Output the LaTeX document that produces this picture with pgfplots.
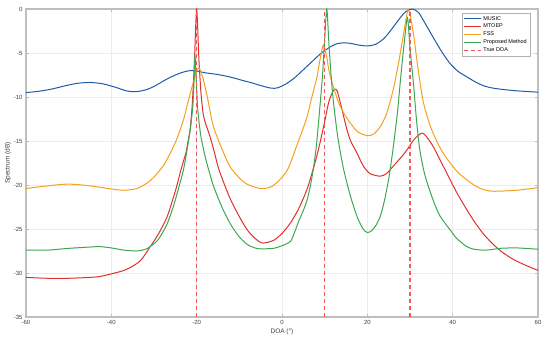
\documentclass[border=0pt]{standalone}
\usepackage{fontspec}
\setmainfont{Liberation Sans}
\usepackage{pgfplots}
\pgfplotsset{compat=1.18}

\definecolor{cMusic}{HTML}{1F5BAA}
\definecolor{cMtoep}{HTML}{E0302E}
\definecolor{cFss}{HTML}{F5A01E}
\definecolor{cProp}{HTML}{3CA851}
\definecolor{cTrue}{HTML}{F25A5A}
\definecolor{frame}{HTML}{BEBEBE}
\definecolor{ticktxt}{HTML}{404040}

\begin{document}
\begin{tikzpicture}
\begin{axis}[
    scale only axis,
    width=512pt, height=308pt,
    xmin=-60, xmax=60, ymin=-35, ymax=0,
    xtick={-60,-40,...,60},
    ytick={-35,-30,...,0},
    tick align=inside,
    major tick length=3pt,
    axis line style={frame, line width=1.2pt},
    every tick/.style={frame, line width=0.6pt},
    grid=major,
    major grid style={gray!15, line width=0.4pt},
    tick label style={font=\fontsize{6}{7}\selectfont, text=ticktxt},
    /pgf/number format/assume math mode=true,
    xlabel={DOA (°)},
    ylabel={Spectrum (dB)},
    label style={font=\fontsize{6.5}{7.5}\selectfont, text=ticktxt},
    xlabel style={yshift=3pt},
    ylabel style={yshift=-4pt},
    unbounded coords=jump,
    legend cell align=left,
    legend style={at={(rel axis cs:1,1)}, anchor=north east,
        xshift=-8pt, yshift=-4pt, draw=gray!60, fill=white,
        font=\fontsize{5.5}{6.5}\selectfont, inner sep=1pt,
        row sep=-1.5pt},
    legend image code/.code={\draw[#1] (0pt,0pt) -- (17pt,0pt);},
]

\addlegendimage{cMusic, line width=1pt}
\addlegendentry{MUSIC}
\addlegendimage{cMtoep, line width=1pt}
\addlegendentry{MTOEP}
\addlegendimage{cFss, line width=1pt}
\addlegendentry{FSS}
\addlegendimage{cProp, line width=1pt}
\addlegendentry{Proposed Method}
\addlegendimage{cTrue, line width=1.5pt, dash pattern=on 4pt off 3pt}
\addlegendentry{True DOA}

% MUSIC
\addplot[cMusic, line width=1pt, smooth, tension=0.45, forget plot] coordinates {
(-60,-9.5) (-57,-9.35) (-54,-9.1) (-51,-8.75) (-48,-8.45) (-45,-8.35)
(-42,-8.5) (-39,-8.9) (-36.5,-9.3) (-34.4,-9.4) (-32,-9.2) (-30,-8.8)
(-27.5,-8.1) (-25,-7.5) (-23,-7.15) (-21.5,-7.0) (-20,-7.05) (-18,-7.25)
(-15,-7.45) (-12,-7.75) (-9,-8.15) (-7,-8.4) (-5,-8.7) (-2.5,-9.0)
(-1,-8.95) (1,-8.5) (3,-7.8) (5,-6.9) (7,-6.0) (9,-5.1) (11,-4.4)
(12.5,-4.0) (14.3,-3.85) (16,-3.9) (18,-4.1) (20,-4.2) (22,-4.0)
(24,-3.3) (26,-2.1) (27.7,-1.0) (29,-0.3) (30.5,0) (32,-0.4) (33.5,-1.6)
(35.4,-3.2) (37.5,-4.9) (39.4,-6.2) (41.3,-7.1) (43.3,-7.7) (45,-8.2)
(47.1,-8.7) (49,-8.95) (51,-9.1) (55,-9.3) (60,-9.45)
};

% MTOEP
\addplot[cMtoep, line width=1pt, smooth, tension=0.45, forget plot] coordinates {
(-60,-30.5) (-55,-30.6) (-50,-30.6) (-45,-30.5) (-42.7,-30.4) (-40,-30.1)
(-37,-29.7) (-34.9,-29.2) (-33,-28.5) (-31,-27.1) (-29,-25.6) (-27,-23.7)
(-25.5,-21.5) (-24.6,-20.0) (-23.7,-18.3) (-22.5,-16.3) (-22,-15.0)
(-21.5,-13.5) (-21,-10.6) (-20.5,-5.6) (-20.25,-2.2) (-20,0)
(-19.75,-2.2) (-19.5,-5.5) (-19,-9.5) (-18.5,-11.8) (-18,-12.9)
(-17,-14.3) (-16,-16.0) (-15,-17.9) (-14,-19.3) (-12.2,-21.5) (-10,-23.6)
(-8,-25.2) (-6,-26.2) (-4.5,-26.6) (-2,-26.3) (0,-25.5) (2,-24.3)
(4,-22.6) (6,-20.3) (8,-17.0) (9,-15.0) (10,-12.8) (11,-10.5) (12,-9.3)
(12.5,-9.1) (13,-9.4) (14,-11.3) (15,-13.3) (16,-14.9) (17.6,-16.4)
(19,-17.8) (20.6,-18.7) (23,-19.0) (24.5,-18.7) (26,-17.9) (28,-16.8)
(29.3,-16.0) (31,-14.8) (32.8,-14.1) (34,-14.6) (35.4,-15.6) (37,-17.1)
(39.4,-19.4) (41,-20.9) (43.3,-22.8) (45,-24.1) (47.1,-25.5) (49,-26.5)
(51,-27.4) (54,-28.4) (57,-29.1) (60,-29.7)
};

% FSS
\addplot[cFss, line width=1pt, smooth, tension=0.45, forget plot] coordinates {
(-60,-20.4) (-55,-20.1) (-50,-19.9) (-45,-20.1) (-40,-20.45) (-37,-20.6)
(-34,-20.4) (-31.7,-19.8) (-30,-19.1) (-27.8,-17.8) (-26,-16.2)
(-24.6,-14.7) (-23.1,-12.6) (-22.3,-11.1) (-21,-8.7) (-20,-7.1)
(-19.4,-6.7) (-18.5,-7.9) (-17.5,-10.0) (-16.1,-13.3) (-14,-16.0)
(-12.2,-17.9) (-10,-19.2) (-8.2,-19.9) (-6,-20.3) (-4.5,-20.4)
(-2.5,-20.2) (-0.5,-19.4) (1,-18.5) (1.9,-17.6) (3.4,-15.6) (5,-13.5)
(5.9,-12.2) (7,-10.0) (8.2,-7.7) (9,-5.5) (9.7,-4.1) (10.5,-5.5)
(11,-7.0) (12,-8.8) (13.5,-10.9) (15.2,-12.4) (17.6,-13.9) (20,-14.4)
(21.5,-14.2) (23,-13.4) (24.5,-11.9) (26,-9.3) (27.3,-6.2) (28.4,-3.1)
(29.6,-0.1) (30.8,-2.8) (31.8,-6.5) (33,-10.3) (34.2,-12.5) (35.4,-14.1)
(37.3,-16.0) (39.4,-17.5) (41.3,-18.6) (43.3,-19.4) (45.3,-20.1)
(47.1,-20.5) (49,-20.7) (51,-20.7) (55,-20.6) (60,-20.3)
};

% Proposed Method
\addplot[cProp, line width=1pt, smooth, tension=0.45, forget plot] coordinates {
(-60,-27.4) (-55,-27.4) (-50,-27.2) (-45,-27.05) (-42.7,-27.0)
(-40,-27.15) (-37,-27.4) (-34,-27.5) (-32,-27.3) (-30.9,-27.0)
(-29,-26.2) (-27,-24.5) (-25.5,-22.5) (-24.6,-21.0) (-23.2,-18.5)
(-22.5,-16.7) (-21.5,-13.7) (-20.9,-11.0) (-20.6,-8.0) (-20.4,-5.3)
(-20.1,-8.0) (-19.8,-11.0) (-19.5,-12.6) (-19,-14.5) (-18,-16.8)
(-17,-18.6) (-16,-20.2) (-14,-22.6) (-12,-24.5) (-10,-25.9) (-8,-26.8)
(-6,-27.2) (-4.5,-27.25) (-2,-27.2) (0,-26.9) (2,-26.4) (3,-25.3)
(4,-24.0) (5,-22.9) (6,-21.5) (7,-19.2) (8,-15.8) (8.9,-11.0)
(9.5,-7.5) (10,-3.5) (10.5,0) (11,-4.0) (11.5,-7.5) (12,-10.3)
(13,-14.3) (14.3,-17.9) (16,-21.2) (17.6,-23.6) (19,-25.0) (20,-25.4)
(21,-25.2) (22,-24.6) (23,-23.6) (24,-21.8) (25,-19.3) (26,-16.0)
(27,-12.0) (27.7,-8.4) (28.5,-4.5) (29.4,-1.0) (30,-4.5) (30.8,-8.4)
(31.5,-12.5) (32.3,-16.0) (33.5,-18.9) (35.4,-21.7) (37,-23.5)
(39.4,-25.1) (41,-26.1) (43.3,-27.0) (45,-27.3) (47.1,-27.4)
(49,-27.35) (51,-27.2) (55,-27.15) (60,-27.3)
};

% True DOA
\addplot[cTrue, line width=1.5pt, dash pattern=on 4pt off 3pt, forget plot] coordinates {
(-20,-35) (-20,0) (0,nan) (10,-35) (10,0) (0,nan) (30,-35) (30,0)
};

\end{axis}
\pgfresetboundingbox
\path ([shift={(-26pt,-24pt)}]current axis.south west) rectangle ([shift={(12pt,9pt)}]current axis.north east);
\end{tikzpicture}
\end{document}
